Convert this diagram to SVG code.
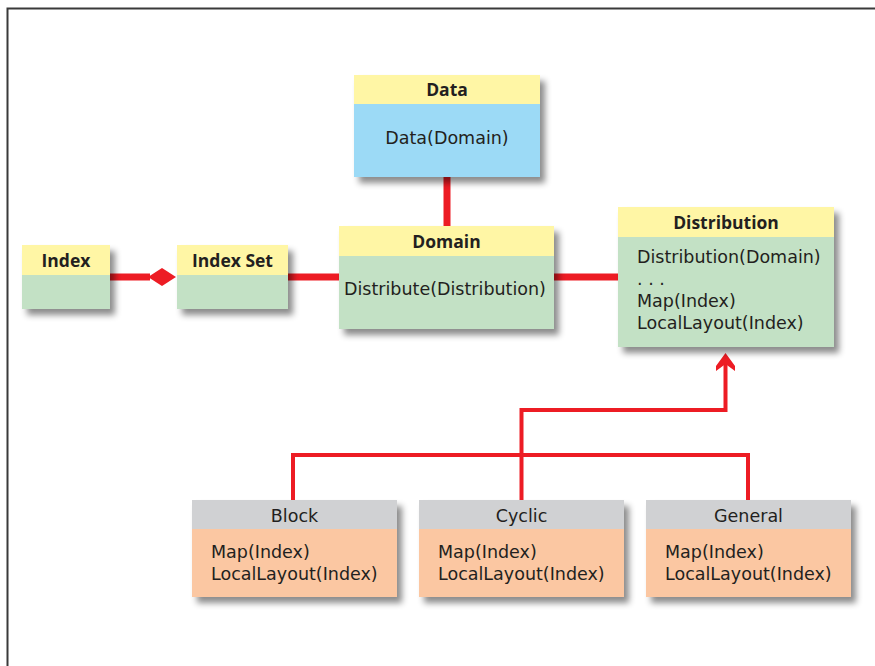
<svg xmlns="http://www.w3.org/2000/svg" width="875" height="666" viewBox="0 0 875 666">
<defs>
<filter id="sh" x="-10%" y="-10%" width="130%" height="140%">
<feDropShadow dx="5" dy="6" stdDeviation="3" flood-color="#000" flood-opacity="0.45"/>
</filter>
</defs>
<style>
.hdr{fill:#fff6a5}
.hdrg{fill:#d0d1d3}
.grn{fill:#c3e1c5}
.blu{fill:#9cdaf6}
.org{fill:#fbc7a2}
.t{font-family:"DejaVu Sans","Open Sans",sans-serif;font-size:17.5px;fill:#231f20}
.b{font-family:"Open Sans","Liberation Sans",sans-serif;font-weight:bold;text-anchor:middle;font-size:17.5px}
.c{text-anchor:middle}
.thick{stroke:#ed1c24;stroke-width:7;fill:none}
.thin{stroke:#ed1c24;stroke-width:4;fill:none}
</style>
<rect width="875" height="666" fill="#fff"/>
<path d="M7.5,666 V8.5 H875" fill="none" stroke="#3a3a3a" stroke-width="2"/>

<g id="connectors">
<line class="thick" x1="447" y1="177" x2="447" y2="226"/>
<line class="thick" x1="110" y1="277" x2="150" y2="277"/>
<polygon points="148,277 162,268 176,277 162,286" fill="#ed1c24"/>
<line class="thick" x1="288" y1="277" x2="339" y2="277"/>
<line class="thick" x1="554" y1="277" x2="618" y2="277"/>
<path class="thin" d="M293,500 V455 H748 V500"/>
<path class="thin" d="M521.5,500 V410 H725.5 V364"/>
<polygon points="725.5,353 735,366 735,371 725.5,364 716,371 716,366" fill="#ed1c24"/>
</g>

<g id="data" filter="url(#sh)">
<rect class="hdr" x="354" y="75" width="186" height="29"/>
<rect class="blu" x="354" y="104" width="186" height="73"/>
</g>
<text class="b" fill="#231f20" x="447" y="96">Data</text>
<text class="t c" x="447" y="144">Data(Domain)</text>

<g id="domain" filter="url(#sh)">
<rect class="hdr" x="339" y="226" width="215" height="30"/>
<rect class="grn" x="339" y="256" width="215" height="73"/>
</g>
<text class="b" fill="#231f20" x="446.5" y="248">Domain</text>
<text class="t" x="344" y="295">Distribute(Distribution)</text>

<g id="index" filter="url(#sh)">
<rect class="hdr" x="22" y="245" width="88" height="30"/>
<rect class="grn" x="22" y="275" width="88" height="34"/>
</g>
<text class="b" fill="#231f20" x="66" y="267">Index</text>

<g id="indexset" filter="url(#sh)">
<rect class="hdr" x="177" y="245" width="111" height="30"/>
<rect class="grn" x="177" y="275" width="111" height="34"/>
</g>
<text class="b" fill="#231f20" x="232.5" y="267">Index Set</text>

<g id="distribution" filter="url(#sh)">
<rect class="hdr" x="618" y="207" width="216" height="30"/>
<rect class="grn" x="618" y="237" width="216" height="110"/>
</g>
<text class="b" fill="#231f20" x="726" y="229">Distribution</text>
<text class="t" x="637" y="263">Distribution(Domain)</text>
<text class="t" x="637" y="285" font-size="16">. . .</text>
<text class="t" x="637" y="307">Map(Index)</text>
<text class="t" x="637" y="329">LocalLayout(Index)</text>

<g id="block" filter="url(#sh)">
<rect class="hdrg" x="192" y="500" width="205" height="29"/>
<rect class="org" x="192" y="529" width="205" height="68"/>
</g>
<text class="t c" x="294.5" y="522">Block</text>
<text class="t" x="211" y="558">Map(Index)</text>
<text class="t" x="211" y="580">LocalLayout(Index)</text>

<g id="cyclic" filter="url(#sh)">
<rect class="hdrg" x="419" y="500" width="205" height="29"/>
<rect class="org" x="419" y="529" width="205" height="68"/>
</g>
<text class="t c" x="521.5" y="522">Cyclic</text>
<text class="t" x="438" y="558">Map(Index)</text>
<text class="t" x="438" y="580">LocalLayout(Index)</text>

<g id="general" filter="url(#sh)">
<rect class="hdrg" x="646" y="500" width="205" height="29"/>
<rect class="org" x="646" y="529" width="205" height="68"/>
</g>
<text class="t c" x="748.5" y="522">General</text>
<text class="t" x="665" y="558">Map(Index)</text>
<text class="t" x="665" y="580">LocalLayout(Index)</text>
</svg>
